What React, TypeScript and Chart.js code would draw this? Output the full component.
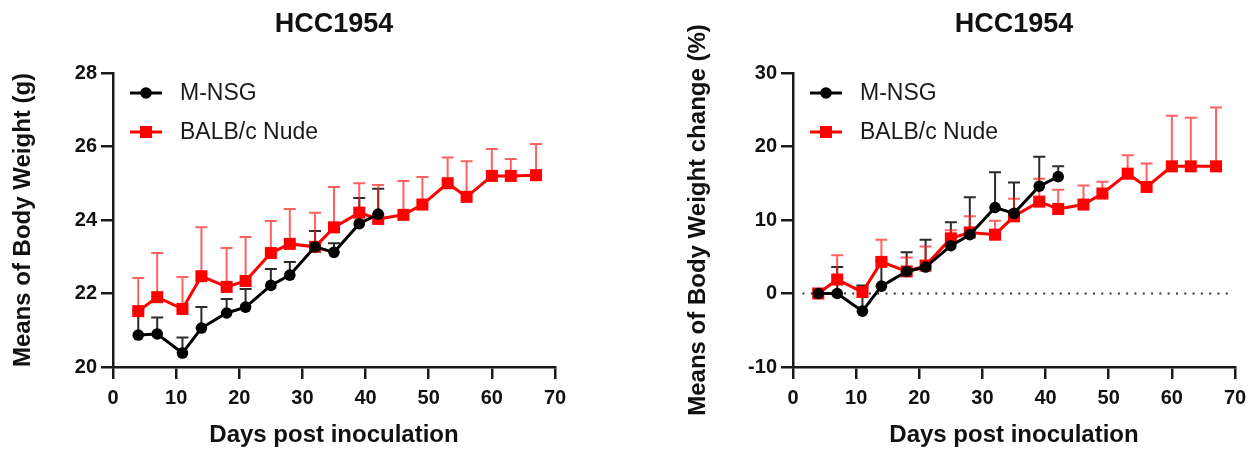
import React, { useEffect, useRef } from "react";
import { Chart, registerables } from "chart.js";

Chart.register(...registerables);

const TITLE = "HCC1954";
const SERIES_NAMES = ["M-NSG", "BALB/c Nude"];
const X_TITLE = "Days post inoculation";
const Y_TITLE_LEFT = "Means of Body Weight (g)";
const Y_TITLE_RIGHT = "Means of Body Weight change (%)";

const DAYS_NSG = [4, 7, 11, 14, 18, 21, 25, 28, 32, 35, 39, 42];
const DAYS_NUDE = [4, 7, 11, 14, 18, 21, 25, 28, 32, 35, 39, 42, 46, 49, 53, 56, 60, 63, 67];

const WEIGHT_NSG = [20.87, 20.9, 20.38, 21.06, 21.47, 21.63, 22.22, 22.5, 23.27, 23.12, 23.9, 24.16];
const WEIGHT_NSG_UPPER = [21.55, 21.35, 20.8, 21.63, 21.85, 22.12, 22.67, 22.86, 23.7, 23.37, 24.6, 24.85];
const WEIGHT_NUDE = [21.52, 21.9, 21.58, 22.47, 22.18, 22.34, 23.1, 23.35, 23.27, 23.8, 24.2, 24.03, 24.14, 24.42, 25.0, 24.63, 25.2, 25.2, 25.22];
const WEIGHT_NUDE_UPPER = [22.42, 23.1, 22.45, 23.8, 23.24, 23.54, 23.97, 24.3, 24.2, 24.9, 25.0, 24.95, 25.06, 25.17, 25.7, 25.6, 25.93, 25.66, 26.07];

const CHANGE_NSG = [0, 0, -2.4, 1.0, 3.0, 3.6, 6.5, 8.0, 11.7, 10.9, 14.6, 15.9];
const CHANGE_NSG_UPPER = [0, 3.6, 1.1, 4.5, 5.6, 7.3, 9.7, 13.1, 16.5, 15.1, 18.6, 17.3];
const CHANGE_NUDE = [0, 1.9, 0.2, 4.3, 3.0, 3.8, 7.5, 8.3, 8.0, 10.5, 12.5, 11.5, 12.1, 13.6, 16.3, 14.5, 17.3, 17.3, 17.3];
const CHANGE_NUDE_UPPER = [0, 5.2, 0.8, 7.3, 4.9, 6.4, 8.6, 10.5, 9.9, 12.9, 15.6, 14.1, 14.7, 15.2, 18.8, 17.7, 24.2, 23.9, 25.3];

const X_MIN = 0;
const X_MAX = 70;
const X_STEP = 10;
const LEFT_Y = { min: 20, max: 28, step: 2 };
const RIGHT_Y = { min: -10, max: 30, step: 10 };
const ZERO_LINE = { value: 0, from: 1.5, to: 69 };

const FONT = "'Liberation Sans', Arial, Helvetica, sans-serif";
const BLACK = "#000000";
const RED = "#ff0000";
const AXIS = "#1a1a1a";

const errorBarPlugin = {
  id: "errorBars",
  beforeDatasetsDraw(chart: any) {
    const ctx = chart.ctx;
    const yScale = chart.scales.y;
    chart.data.datasets.forEach((ds: any, di: number) => {
      const meta = chart.getDatasetMeta(di);
      if (!ds.upper) return;
      ctx.save();
      ctx.strokeStyle = ds.errorColor;
      ctx.lineWidth = 2;
      meta.data.forEach((pt: any, i: number) => {
        const up = ds.upper[i];
        if (up === undefined || up <= ds.data[i].y) return;
        const yTop = yScale.getPixelForValue(up);
        ctx.beginPath();
        ctx.moveTo(pt.x, pt.y);
        ctx.lineTo(pt.x, yTop);
        ctx.moveTo(pt.x - 6, yTop);
        ctx.lineTo(pt.x + 6, yTop);
        ctx.stroke();
      });
      ctx.restore();
    });
  },
};

const zeroLinePlugin = {
  id: "zeroLine",
  beforeDatasetsDraw(chart: any, _args: any, opts: any) {
    if (!opts || !opts.show) return;
    const ctx = chart.ctx;
    const xs = chart.scales.x;
    const ys = chart.scales.y;
    const y = ys.getPixelForValue(ZERO_LINE.value);
    ctx.save();
    ctx.strokeStyle = "#333";
    ctx.lineWidth = 2;
    ctx.setLineDash([2, 6.3]);
    ctx.beginPath();
    ctx.moveTo(xs.getPixelForValue(ZERO_LINE.from), y);
    ctx.lineTo(xs.getPixelForValue(ZERO_LINE.to), y);
    ctx.stroke();
    ctx.restore();
  },
};

const headerLegendPlugin = {
  id: "headerLegend",
  afterDraw(chart: any) {
    const ctx = chart.ctx;
    const area = chart.chartArea;
    ctx.save();
    ctx.fillStyle = "#111";
    ctx.font = `bold 27px ${FONT}`;
    ctx.textAlign = "center";
    ctx.textBaseline = "middle";
    ctx.fillText(TITLE, (area.left + area.right) / 2, 25);

    chart.data.datasets.forEach((ds: any, i: number) => {
      const y = area.top + 20 + i * 39;
      const x0 = area.left + 17;
      const x1 = x0 + 32;
      ctx.strokeStyle = ds.borderColor;
      ctx.lineWidth = 3;
      ctx.beginPath();
      ctx.moveTo(x0, y);
      ctx.lineTo(x1, y);
      ctx.stroke();
      ctx.fillStyle = ds.backgroundColor;
      const cx = (x0 + x1) / 2;
      if (ds.pointStyle === "rect") {
        const s = ds.pointRadius * Math.SQRT1_2;
        ctx.fillRect(cx - s, y - s, 2 * s, 2 * s);
      } else {
        ctx.beginPath();
        ctx.arc(cx, y, ds.pointRadius, 0, Math.PI * 2);
        ctx.fill();
      }
      ctx.fillStyle = "#1a1a1a";
      ctx.font = `23px ${FONT}`;
      ctx.textAlign = "left";
      ctx.textBaseline = "middle";
      ctx.fillText(SERIES_NAMES[i], area.left + 67, y + 1);
    });
    ctx.restore();
  },
};

function makeConfig(
  nsg: number[],
  nsgUp: number[],
  nude: number[],
  nudeUp: number[],
  yCfg: { min: number; max: number; step: number },
  yTitle: string,
  yAxisWidth: number,
  yTitleOffset: number,
  padRight: number,
  showZero: boolean
): any {
  return {
    type: "scatter",
    data: {
      datasets: [
        {
          label: SERIES_NAMES[0],
          data: DAYS_NSG.map((d, i) => ({ x: d, y: nsg[i] })),
          upper: nsgUp,
          errorColor: "rgba(20,20,20,0.9)",
          showLine: true,
          borderColor: BLACK,
          backgroundColor: BLACK,
          borderWidth: 3,
          pointStyle: "circle",
          pointRadius: 5.8,
          pointBorderWidth: 0,
          tension: 0,
          order: 0,
        },
        {
          label: SERIES_NAMES[1],
          data: DAYS_NUDE.map((d, i) => ({ x: d, y: nude[i] })),
          upper: nudeUp,
          errorColor: "rgba(255,30,30,0.7)",
          showLine: true,
          borderColor: RED,
          backgroundColor: RED,
          borderWidth: 3,
          pointStyle: "rect",
          pointRadius: 8.5,
          pointBorderWidth: 0,
          tension: 0,
          order: 1,
        },
      ],
    },
    options: {
      responsive: false,
      animation: false,
      devicePixelRatio: 1,
      layout: { padding: { top: 73, right: padRight, left: 0, bottom: 0 } },
      plugins: {
        legend: { display: false },
        title: { display: false },
        tooltip: { enabled: false },
        zeroLine: { show: showZero },
      },
      scales: {
        x: {
          type: "linear",
          min: X_MIN,
          max: X_MAX,
          afterFit: (s: any) => {
            s.height = 85;
          },
          ticks: {
            stepSize: X_STEP,
            color: "#111",
            font: { family: FONT, size: 20, weight: "bold" },
            padding: 7,
            maxRotation: 0,
          },
          grid: {
            drawOnChartArea: false,
            drawTicks: true,
            tickLength: 12,
            color: AXIS,
            lineWidth: 2.5,
          },
          border: { display: true, color: AXIS, width: 2.5 },
          title: {
            display: true,
            text: X_TITLE,
            color: "#111",
            font: { family: FONT, size: 24, weight: "bold" },
            padding: { top: 0, bottom: 2 },
          },
        },
        y: {
          type: "linear",
          min: yCfg.min,
          max: yCfg.max,
          afterFit: (s: any) => {
            s.width = yAxisWidth;
          },
          ticks: {
            stepSize: yCfg.step,
            color: "#111",
            font: { family: FONT, size: 20, weight: "bold" },
            padding: 4,
          },
          grid: {
            drawOnChartArea: false,
            drawTicks: true,
            tickLength: 12,
            color: AXIS,
            lineWidth: 2.5,
          },
          border: { display: true, color: AXIS, width: 2.5 },
          title: {
            display: true,
            text: yTitle,
            color: "#111",
            font: { family: FONT, size: 24, weight: "bold" },
            padding: { top: yTitleOffset, bottom: 0 },
          },
        },
      },
    },
    plugins: [errorBarPlugin, zeroLinePlugin, headerLegendPlugin],
  };
}

export default function App() {
  const leftRef = useRef<HTMLCanvasElement | null>(null);
  const rightRef = useRef<HTMLCanvasElement | null>(null);

  useEffect(() => {
    const left = new Chart(
      leftRef.current as HTMLCanvasElement,
      makeConfig(WEIGHT_NSG, WEIGHT_NSG_UPPER, WEIGHT_NUDE, WEIGHT_NUDE_UPPER, LEFT_Y, Y_TITLE_LEFT, 113, 8.6, 45, false)
    );
    const right = new Chart(
      rightRef.current as HTMLCanvasElement,
      makeConfig(CHANGE_NSG, CHANGE_NSG_UPPER, CHANGE_NUDE, CHANGE_NUDE_UPPER, RIGHT_Y, Y_TITLE_RIGHT, 153, 43.6, 22, true)
    );
    return () => {
      left.destroy();
      right.destroy();
    };
  }, []);

  return (
    <div style={{ position: "absolute", left: 0, top: 0, width: 1257, height: 452, background: "#fff" }}>
      <canvas
        ref={leftRef}
        width={600}
        height={452}
        style={{ position: "absolute", left: 0, top: 0, width: 600, height: 452 }}
      />
      <canvas
        ref={rightRef}
        width={617}
        height={452}
        style={{ position: "absolute", left: 640, top: 0, width: 617, height: 452 }}
      />
    </div>
  );
}
